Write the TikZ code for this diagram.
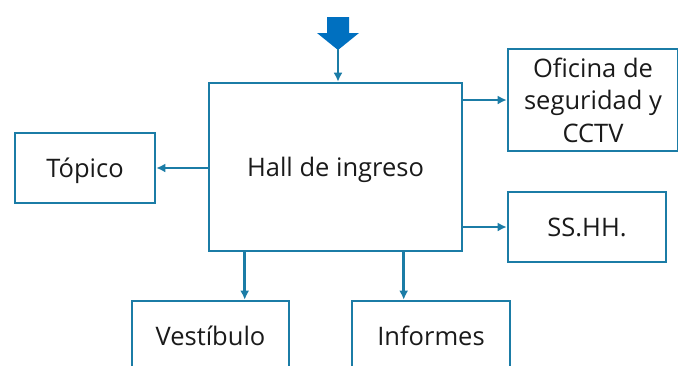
\documentclass[tikz,border=0pt]{standalone}
\usepackage{fontspec}
\setmainfont{Open Sans}
\usepackage{tikz}
\usetikzlibrary{arrows.meta,calc}
\definecolor{ruleteal}{HTML}{1B7CA6}
\definecolor{blockblue}{HTML}{0070C0}
\definecolor{txtdark}{HTML}{1A1A1A}

\begin{document}
\begin{tikzpicture}[x=1pt, y=-1pt, line width=2.6pt,
  every node/.style={font=\fontsize{25.5}{32.5}\selectfont, text=txtdark},
  roombox/.style={draw=ruleteal, fill=white, align=center, inner sep=0pt},
  oneline/.style={roombox, text height=18pt, text depth=0pt},
  conn/.style={draw=ruleteal, -{Latex[length=9pt,width=9pt]}}]

\useasboundingbox (0,0) rectangle (678,365);

% ---------------- rooms ----------------------------------------------------
\node[oneline, minimum width=253, minimum height=168] (hall) at (335.5,167) {Hall de ingreso};
\node[oneline, minimum width=140, minimum height=70] (topico) at (85,168) {Tópico};
\node[roombox, minimum width=170, minimum height=102] (oficina) at (593,100)
  {Oficina de\\seguridad y\\CCTV};
\node[oneline, minimum width=158, minimum height=70] (sshh) at (587,227) {SS.HH.};
\node[oneline, minimum width=157, minimum height=70] (vestibulo) at (210.5,336) {Vestíbulo};
\node[oneline, minimum width=158, minimum height=70] (informes) at (431,336) {Informes};

% ---------------- entrance -------------------------------------------------
\fill[blockblue] (327,17) -- (349,17) -- (349,33) -- (359,33) -- (338,50)
  -- (317,33) -- (327,33) -- cycle;
\coordinate (entrada) at (338,49);

% ---------------- connectors -----------------------------------------------
\draw[conn] (entrada) -- (entrada |- hall.north);
\draw[conn] (hall.west |- topico.east) -- (topico.east);
\draw[conn] (hall.east |- oficina.west) -- (oficina.west);
\draw[conn] (hall.east |- sshh.west) -- (sshh.west);
\draw[conn] ([xshift=37]hall.south west) -- ([xshift=37]hall.south west |- vestibulo.north);
\draw[conn] ([xshift=196]hall.south west) -- ([xshift=196]hall.south west |- informes.north);

\end{tikzpicture}
\end{document}
